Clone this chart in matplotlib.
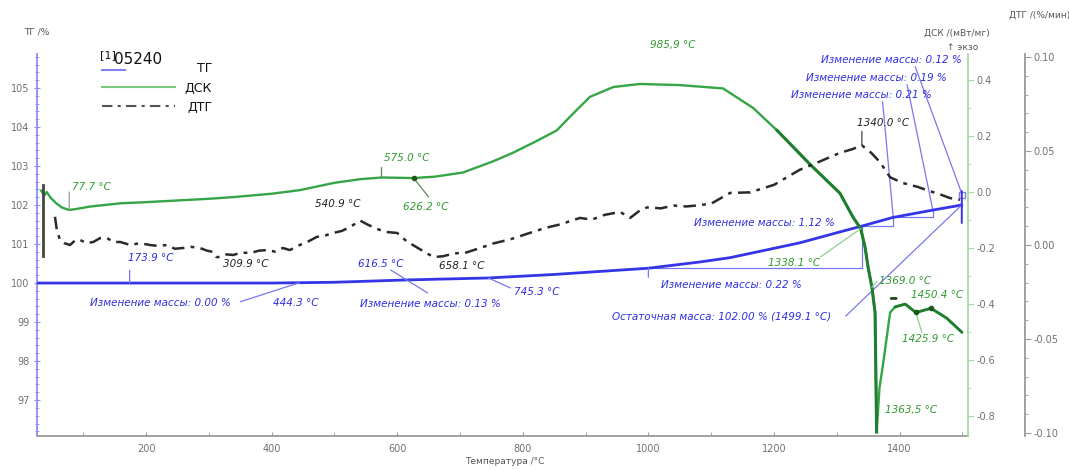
import numpy as np
import matplotlib
matplotlib.use("Agg")
import matplotlib.pyplot as plt
import matplotlib.transforms as mtransforms
from matplotlib.lines import Line2D
from matplotlib.ticker import FixedLocator, MultipleLocator, FormatStrFormatter

plt.rcParams['font.family'] = ['DejaVu Sans']
plt.rcParams['axes.unicode_minus'] = False

# ---------------- data ----------------
tg_temp = [28, 100, 200, 300, 400, 500, 616, 745, 850, 1000, 1082, 1130, 1241,
           1305, 1340, 1389, 1453, 1499]
tg_mass = [100.0, 100.0, 100.0, 100.0, 100.0, 100.02, 100.08, 100.13, 100.22,
           100.38, 100.54, 100.65, 101.03, 101.31, 101.46, 101.68, 101.87, 102.0]

dsc_temp = [33, 38, 42, 48, 57, 66, 77.7, 90, 110, 160, 200, 250, 300, 339, 400,
            445, 500, 541, 575, 626, 660, 705, 753, 784, 820, 854, 880, 907, 944,
            986, 1050, 1119, 1167, 1205, 1257, 1305, 1326, 1338, 1345, 1350, 1356,
            1361, 1363.5, 1368, 1374, 1385, 1393, 1409, 1426, 1450, 1475, 1499]
dsc_val = [0.005, -0.012, 0.0, -0.02, -0.04, -0.055, -0.064, -0.06, -0.052, -0.04,
           -0.036, -0.03, -0.024, -0.018, -0.006, 0.007, 0.033, 0.046, 0.052, 0.05,
           0.055, 0.07, 0.11, 0.14, 0.18, 0.22, 0.28, 0.34, 0.375, 0.386, 0.382,
           0.37, 0.30, 0.22, 0.10, -0.004, -0.09, -0.13, -0.196, -0.27, -0.34,
           -0.43, -0.857, -0.70, -0.61, -0.43, -0.41, -0.40, -0.43, -0.415, -0.45,
           -0.50]

dtg_temp = [55, 58, 63, 70, 79, 88, 95, 105, 116, 127, 138, 148, 159, 175, 190, 206,
            220, 233, 246, 259, 272, 286, 297, 307, 312, 318, 328, 339, 352, 366,
            380, 393, 405, 418, 429, 445, 459, 472, 485, 498, 512, 525, 541, 552,
            565, 580, 600, 615, 630, 645, 658, 673, 690, 710, 732, 755, 780, 811,
            835, 860, 891, 910, 930, 955, 971, 985, 998, 1020, 1040, 1060, 1077,
            1100, 1130, 1162, 1200, 1241, 1270, 1305, 1325, 1340, 1355, 1369, 1385,
            1405, 1428, 1445, 1464, 1480, 1496]
dtg_val = [0.015, 0.008, 0.0027, 0.001, 0.0, 0.0027, 0.0027, 0.001, 0.0016, 0.0037,
           0.0037, 0.0016, 0.0016, 0.0, 0.001, 0.0, -0.0005, 0.0, -0.002, -0.0016,
           -0.001, -0.0016, -0.003, -0.0037, -0.0064, -0.0064, -0.005, -0.0053,
           -0.004, -0.0043, -0.003, -0.0027, -0.0035, -0.0016, -0.0027, 0.0, 0.002,
           0.0043, 0.005, 0.0064, 0.0075, 0.0096, 0.013, 0.011, 0.009, 0.007,
           0.0064, 0.002, -0.001, -0.004, -0.0064, -0.006, -0.0045, -0.004,
           -0.0016, 0.001, 0.003, 0.0064, 0.009, 0.011, 0.0144, 0.0135, 0.016,
           0.0176, 0.0144, 0.018, 0.02, 0.0195, 0.021, 0.0205, 0.021, 0.022,
           0.0277, 0.028, 0.032, 0.04, 0.044, 0.049, 0.051, 0.053, 0.049, 0.044,
           0.036, 0.033, 0.031, 0.029, 0.027, 0.025, 0.024]

# initial transient of DTG (solid vertical stroke)
dtg_start_temp = [36, 36]
dtg_start_val = [0.032, -0.006]

x_ticks = [200, 400, 600, 800, 1000, 1200, 1400]
tg_ticks = [97, 98, 99, 100, 101, 102, 103, 104, 105]
dsc_ticks = [-0.8, -0.6, -0.4, -0.2, 0.0, 0.2, 0.4]
dtg_ticks = [-0.10, -0.05, 0.0, 0.05, 0.10]

# ---------------- colours ----------------
C_TG = '#3535e8'
C_TG_TXT = '#2f2fe0'
C_TG_LN = '#7878ee'
C_DSC = '#35a545'
C_DSC_DARK = '#1f7f2f'
C_DSC_TXT = '#2f9a2f'
C_DSC_LN = '#8fcf8f'
C_DTG = '#2a2a2a'
C_TICK = '#707070'

W, H = 1069, 470
fig = plt.figure(figsize=(W / 100, H / 100), dpi=100)
L, R, B, T = 37, 968, 436, 54
ax = fig.add_axes([L / W, 1 - B / H, (R - L) / W, (B - T) / H])
ax.set_xlim(26.4, 1509)
ax.set_ylim(96.08, 105.87)

ax_dsc = ax.twinx()
ax_dsc.set_ylim(-0.871, 0.493)
ax_dtg = ax.twinx()
ax_dtg.set_ylim(-0.1016, 0.1016)

for a in (ax, ax_dsc, ax_dtg):
    a.patch.set_visible(False)
    for s in a.spines.values():
        s.set_visible(False)

# main axis styling
ax.spines['left'].set_visible(True)
ax.spines['left'].set_color('#8c8cf0')
ax.spines['left'].set_linewidth(1.3)
ax.spines['bottom'].set_visible(True)
ax.spines['bottom'].set_color('#9a9a9a')
ax.spines['bottom'].set_linewidth(1.3)
ax.xaxis.set_major_locator(FixedLocator(x_ticks))
ax.xaxis.set_minor_locator(MultipleLocator(100))
ax.yaxis.set_major_locator(FixedLocator(tg_ticks))
ax.yaxis.set_minor_locator(MultipleLocator(0.2))
ax.tick_params(axis='x', which='both', direction='in', length=3, color='#9a9a9a',
               labelsize=7, labelcolor=C_TICK, pad=6)
ax.tick_params(axis='y', which='major', direction='inout', length=5, color='#8c8cf0',
               labelsize=7, labelcolor=C_TICK, pad=3)
ax.tick_params(axis='y', which='minor', direction='inout', length=3, color='#8c8cf0')

ax_dsc.spines['right'].set_visible(True)
ax_dsc.spines['right'].set_color('#a6dba6')
ax_dsc.spines['right'].set_linewidth(1.3)
ax_dsc.yaxis.set_major_locator(FixedLocator(dsc_ticks))
ax_dsc.yaxis.set_minor_locator(MultipleLocator(0.1))
ax_dsc.yaxis.set_major_formatter(FormatStrFormatter('%.1f'))
ax_dsc.tick_params(axis='y', which='major', direction='out', length=4, color='#a6dba6',
                   labelsize=7, labelcolor=C_TICK, pad=2)
ax_dsc.tick_params(axis='y', which='minor', direction='out', length=2, color='#a6dba6')

ax_dtg.spines['right'].set_visible(True)
ax_dtg.spines['right'].set_position(('axes', (1025 - L) / (R - L)))
ax_dtg.spines['right'].set_color('#9a9a9a')
ax_dtg.spines['right'].set_linewidth(1.3)
ax_dtg.yaxis.set_major_locator(FixedLocator(dtg_ticks))
ax_dtg.yaxis.set_minor_locator(MultipleLocator(0.01))
ax_dtg.yaxis.set_major_formatter(FormatStrFormatter('%.2f'))
ax_dtg.tick_params(axis='y', which='major', direction='out', length=4, color='#9a9a9a',
                   labelsize=7, labelcolor=C_TICK, pad=2)
ax_dtg.tick_params(axis='y', which='minor', direction='out', length=2, color='#9a9a9a')

# ---------------- curves ----------------
ax.plot(tg_temp, tg_mass, color=C_TG, lw=2.0, zorder=5)
ax_dsc.plot(dsc_temp, dsc_val, color=C_DSC, lw=1.7, zorder=5)
# darker overlay on the high-temperature branches (same data, subset)
dsc_t_arr = np.array(dsc_temp)
dsc_v_arr = np.array(dsc_val)
m1 = (dsc_t_arr >= 1200) & (dsc_t_arr <= 1363.5)
m2 = dsc_t_arr >= 1393
ax_dsc.plot(dsc_t_arr[m1], dsc_v_arr[m1], color=C_DSC_DARK, lw=2.2, zorder=6)
ax_dsc.plot(dsc_t_arr[m2], dsc_v_arr[m2], color=C_DSC_DARK, lw=2.0, zorder=6)
ax_dtg.plot(dtg_temp, dtg_val, color=C_DTG, lw=1.8, linestyle=(0, (5, 2.5, 1.5, 2.5)), zorder=5)
ax_dtg.plot(dtg_start_temp, dtg_start_val, color='#444444', lw=2.0, zorder=5)


# ---------------- annotation helpers ----------------
def at(xs, ys, t):
    return (t, float(np.interp(t, xs, ys)))


def label(axx, P, dx, dy, s, color, ha='center', size=7.5, style='italic', weight='normal'):
    axx.annotate(s, xy=P, xytext=(dx, dy), textcoords='offset pixels', ha=ha,
                 va='center', color=color, fontsize=size, fontstyle=style,
                 fontweight=weight, zorder=8)


def seg(axx, P, d0, d1, color, lw=0.9):
    t0 = mtransforms.offset_copy(axx.transData, fig=fig, x=d0[0], y=d0[1], units='dots')
    axx.annotate('', xy=P, xycoords=t0, xytext=(d1[0] - d0[0], d1[1] - d0[1]),
                 textcoords='offset pixels',
                 arrowprops=dict(arrowstyle='-', shrinkA=0, shrinkB=0, color=color, lw=lw),
                 zorder=6)


def tg(t):
    return at(tg_temp, tg_mass, t)


def dsc(t):
    return at(dsc_temp, dsc_val, t)


def dtg(t):
    return at(dtg_temp, dtg_val, t)


# --- TG annotations (blue) ---
P = tg(173.9)
seg(ax, P, (0, 0), (0, 13), C_TG_LN)
label(ax, P, 21, 25, '173.9 °C', C_TG_TXT)

P = tg(444.3)
seg(ax, P, (0, 0), (-59, -19), C_TG_LN)
label(ax, P, -4, -20, '444.3 °C', C_TG_TXT)
label(ax, P, -139, -20, 'Изменение массы: 0.00 %', C_TG_TXT)

P = tg(616.5)
seg(ax, P, (-17, 10), (20, -13), C_TG_LN)
label(ax, P, -27, 16, '616.5 °C', C_TG_TXT)
label(ax, P, 23, -24, 'Изменение массы: 0.13 %', C_TG_TXT)

P = tg(745.3)
seg(ax, P, (0, 0), (22, -10), C_TG_LN)
label(ax, P, 48, -14, '745.3 °C', C_TG_TXT)

P = tg(1000)
seg(ax, P, (0, 0), (0, -9), C_TG_LN)
label(ax, P, 83, -17, 'Изменение массы: 0.22 %', C_TG_TXT)
P2 = tg(1340)
ax.plot([P[0], P2[0]], [P[1], P[1]], color=C_TG_LN, lw=0.9, zorder=4)
ax.plot([P2[0], P2[0]], [P[1], P2[1]], color=C_TG_LN, lw=0.9, zorder=4)
label(ax, P2, -98, 3, 'Изменение массы: 1.12 %', C_TG_TXT)

P3 = tg(1390)
P4 = tg(1453)
P5 = tg(1499)
ax.plot([P2[0], P3[0], P3[0]], [P2[1], P2[1], P3[1]], color=C_TG_LN, lw=0.9, zorder=4)
ax.plot([P3[0], P4[0], P4[0]], [P3[1], P3[1], P4[1]], color=C_TG_LN, lw=0.9, zorder=4)

# labels at upper right
ax.text(1499.5, 105.72, 'Изменение массы: 0.12 %', color=C_TG_TXT, fontsize=7.5,
        fontstyle='italic', ha='right', va='center')
ax.text(1475, 105.26, 'Изменение массы: 0.19 %', color=C_TG_TXT, fontsize=7.5,
        fontstyle='italic', ha='right', va='center')
ax.text(1452, 104.82, 'Изменение массы: 0.21 %', color=C_TG_TXT, fontsize=7.5,
        fontstyle='italic', ha='right', va='center')
ax.plot([1373, P3[0]], [104.64, P3[1]], color=C_TG_LN, lw=0.9)
ax.plot([1412, P4[0]], [105.08, P4[1]], color=C_TG_LN, lw=0.9)
ax.plot([1425, P5[0]], [105.54, 102.3], color=C_TG_LN, lw=0.9)

P = tg(1499.1)
seg(ax, P, (0, 0), (-116, -111), C_TG_LN)
label(ax, P, -240, -111, 'Остаточная масса: 102.00 % (1499.1 °C)', C_TG_TXT)
seg(ax, P, (0, -18), (0, 14), C_TG, lw=1.4)
ax.plot([P[0]], [P[1] + 0.25], marker='s', ms=5, mfc='none', mec='#8080e0', mew=1)

# --- DSC annotations (green) ---
P = dsc(77.7)
seg(ax_dsc, P, (0, 0), (0, 18), '#9a9a9a')
label(ax_dsc, P, 22, 23, '77.7 °C', C_DSC_TXT)

P = dsc(575.0)
seg(ax_dsc, P, (0, 0), (0, 10), '#5a8a5a')
label(ax_dsc, P, 25, 20, '575.0 °C', C_DSC_TXT)

P = dsc(626.2)
seg(ax_dsc, P, (0, 0), (15, -19), '#5a8a5a')
ax_dsc.plot([P[0]], [P[1]], marker='o', ms=3, color='#1a5a1a', zorder=7)
label(ax_dsc, P, 12, -29, '626.2 °C', C_DSC_TXT)

P = dsc(985.9)
label(ax_dsc, P, 33, 39, '985,9 °C', C_DSC_TXT)

P = dsc(1338.1)
seg(ax_dsc, P, (0, 0), (-40, -28), C_DSC_LN)
label(ax_dsc, P, -67, -34, '1338.1 °C', C_DSC_TXT)

P = dsc(1356)
seg(ax_dsc, P, (0, 0), (5, 6), C_DSC_LN)
label(ax_dsc, P, 33, 6, '1369.0 °C', C_DSC_TXT)

P = dsc(1450.4)
label(ax_dsc, P, 6, 13, '1450.4 °C', C_DSC_TXT)
seg(ax_dsc, P, (-40, 10), (-35, 10), '#1a4a1a', lw=2)
ax_dsc.plot([P[0]], [P[1]], marker='o', ms=3, color='#1a5a1a', zorder=7)

P = dsc(1425.9)
seg(ax_dsc, P, (0, 0), (6, -20), C_DSC_LN)
ax_dsc.plot([P[0]], [P[1]], marker='o', ms=3, color='#1a5a1a', zorder=7)
label(ax_dsc, P, 12, -27, '1425.9 °C', C_DSC_TXT)

P = dsc(1363.5)
label(ax_dsc, P, 34, 22, '1363,5 °C', C_DSC_TXT)

# --- DTG annotations (black) ---
P = dtg(540.9)
label(ax_dtg, P, -22, 17, '540.9 °C', '#222222')
P = dtg(309.9)
label(ax_dtg, P, 31, -9, '309.9 °C', '#222222')
P = dtg(658.1)
label(ax_dtg, P, 28, -9, '658.1 °C', '#222222')
P = dtg(1340.0)
seg(ax_dtg, P, (0, 0), (0, 14), '#444444')
label(ax_dtg, P, 21, 22, '1340.0 °C', '#222222')


# ---------------- axis titles & legend (figure pixels) ----------------
def fx(x):
    return x / W


def fy(y):
    return 1 - y / H


ft = dict(color='#555555', fontsize=6.5, ha='center', va='center')
fig.text(fx(37), fy(32), 'ТГ /%', **ft)
fig.text(fx(505), fy(462), 'Температура /°C', **ft)
fig.text(fx(1040), fy(15), 'ДТГ /(%/мин)', **ft)
fig.text(fx(957), fy(33), 'ДСК /(мВт/мг)', **ft)
fig.text(fx(963), fy(47), '↑ экзо', **ft)

fig.text(fx(100), fy(55), '[1]', fontsize=8, color='#111111', ha='left', va='center')
fig.text(fx(114), fy(59), '05240', fontsize=11, color='#111111', ha='left', va='center')
fig.add_artist(Line2D([fx(102), fx(125)], [fy(70), fy(70)], color='#8080f0', lw=1.5))
fig.text(fx(212), fy(69), 'ТГ', fontsize=9, color='#111111', ha='right', va='center')
fig.add_artist(Line2D([fx(102), fx(175)], [fy(87), fy(87)], color='#7cc87c', lw=1.5))
fig.text(fx(212), fy(88), 'ДСК', fontsize=9, color='#111111', ha='right', va='center')
fig.add_artist(Line2D([fx(102), fx(175)], [fy(106), fy(106)], color='#555555', lw=1.5,
                      linestyle=(0, (5, 2.5, 1.5, 2.5))))
fig.text(fx(212), fy(107), 'ДТГ', fontsize=9, color='#111111', ha='right', va='center')

fig.savefig('out.png', dpi=100)
